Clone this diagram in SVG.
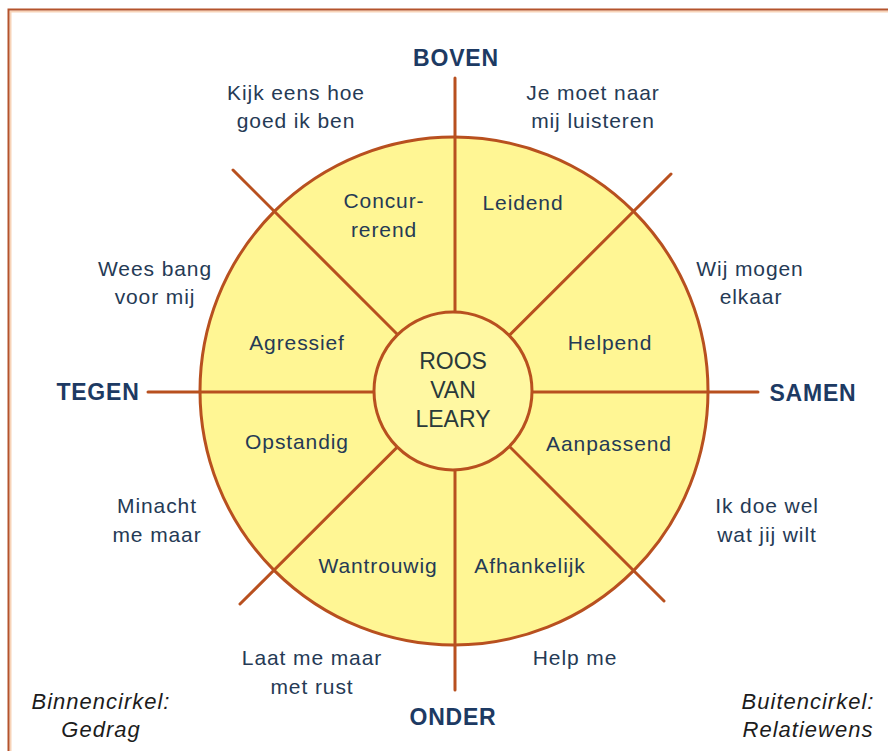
<svg xmlns="http://www.w3.org/2000/svg" width="888" height="751" viewBox="0 0 888 751">
<style>
.t{font-family:"Liberation Sans",Arial,sans-serif;font-size:21px;fill:#253a55;text-anchor:middle;letter-spacing:0.9px}
.h{font-family:"Liberation Sans",Arial,sans-serif;font-size:23px;font-weight:bold;fill:#1d3a63;text-anchor:middle;letter-spacing:0.8px}
.c{font-family:"Liberation Sans",Arial,sans-serif;font-size:23px;fill:#2a3a3a;text-anchor:middle}
.i{font-family:"Liberation Sans",Arial,sans-serif;font-size:22px;font-style:italic;fill:#1c1c1c;text-anchor:middle;letter-spacing:1px}
.ln{stroke:#b8501f;stroke-width:3;stroke-linecap:round;fill:none}
</style>
<rect x="0" y="0" width="888" height="751" fill="#ffffff"/>
<rect x="10.5" y="11.5" width="900" height="800" fill="none" stroke="#f7d3b8" stroke-width="2"/>
<rect x="8.5" y="9.5" width="900" height="800" fill="none" stroke="#b4532c" stroke-width="2"/>
<g id="outer-circle">
<circle cx="454" cy="391" r="254" fill="#fff694" stroke="#b8501f" stroke-width="3"/>
</g>
<g id="connectors">
<line class="ln" x1="455" y1="78" x2="455" y2="690"/>
<line class="ln" x1="148" y1="392" x2="758" y2="392"/>
<line class="ln" x1="233" y1="170" x2="664" y2="601"/>
<line class="ln" x1="671" y1="174" x2="240" y2="604"/>
</g>
<g id="center">
<circle cx="453" cy="391" r="79" fill="#fff8a2" stroke="#b8501f" stroke-width="3"/>
<text class="c" x="453" y="369">ROOS</text>
<text class="c" x="453" y="398">VAN</text>
<text class="c" x="453" y="427">LEARY</text>
</g>
<g id="axis-labels">
<text class="h" x="456" y="66">BOVEN</text>
<text class="h" x="98" y="400">TEGEN</text>
<text class="h" x="813" y="401">SAMEN</text>
<text class="h" x="453" y="725">ONDER</text>
</g>
<g id="inner-labels">
<text class="t" x="384" y="208">Concur-</text>
<text class="t" x="384" y="237">rerend</text>
<text class="t" x="523" y="210">Leidend</text>
<text class="t" x="297" y="350">Agressief</text>
<text class="t" x="610" y="350">Helpend</text>
<text class="t" x="297" y="449">Opstandig</text>
<text class="t" x="609" y="451">Aanpassend</text>
<text class="t" x="378" y="573">Wantrouwig</text>
<text class="t" x="530" y="573">Afhankelijk</text>
</g>
<g id="outer-labels">
<text class="t" x="296" y="100">Kijk eens hoe</text>
<text class="t" x="296" y="128">goed  ik ben</text>
<text class="t" x="593" y="100">Je moet naar</text>
<text class="t" x="593" y="128">mij luisteren</text>
<text class="t" x="155" y="276">Wees bang</text>
<text class="t" x="155" y="304">voor mij</text>
<text class="t" x="750" y="276">Wij mogen</text>
<text class="t" x="751" y="304">elkaar</text>
<text class="t" x="157" y="513">Minacht</text>
<text class="t" x="157" y="542">me maar</text>
<text class="t" x="767" y="513">Ik doe wel</text>
<text class="t" x="767" y="542">wat jij wilt</text>
<text class="t" x="312" y="665">Laat me maar</text>
<text class="t" x="312" y="694">met rust</text>
<text class="t" x="575" y="665">Help me</text>
</g>
<g id="legend">
<text class="i" x="101" y="709">Binnencirkel:</text>
<text class="i" x="101" y="737">Gedrag</text>
<text class="i" x="808" y="709">Buitencirkel:</text>
<text class="i" x="808" y="737">Relatiewens</text>
</g>
</svg>
